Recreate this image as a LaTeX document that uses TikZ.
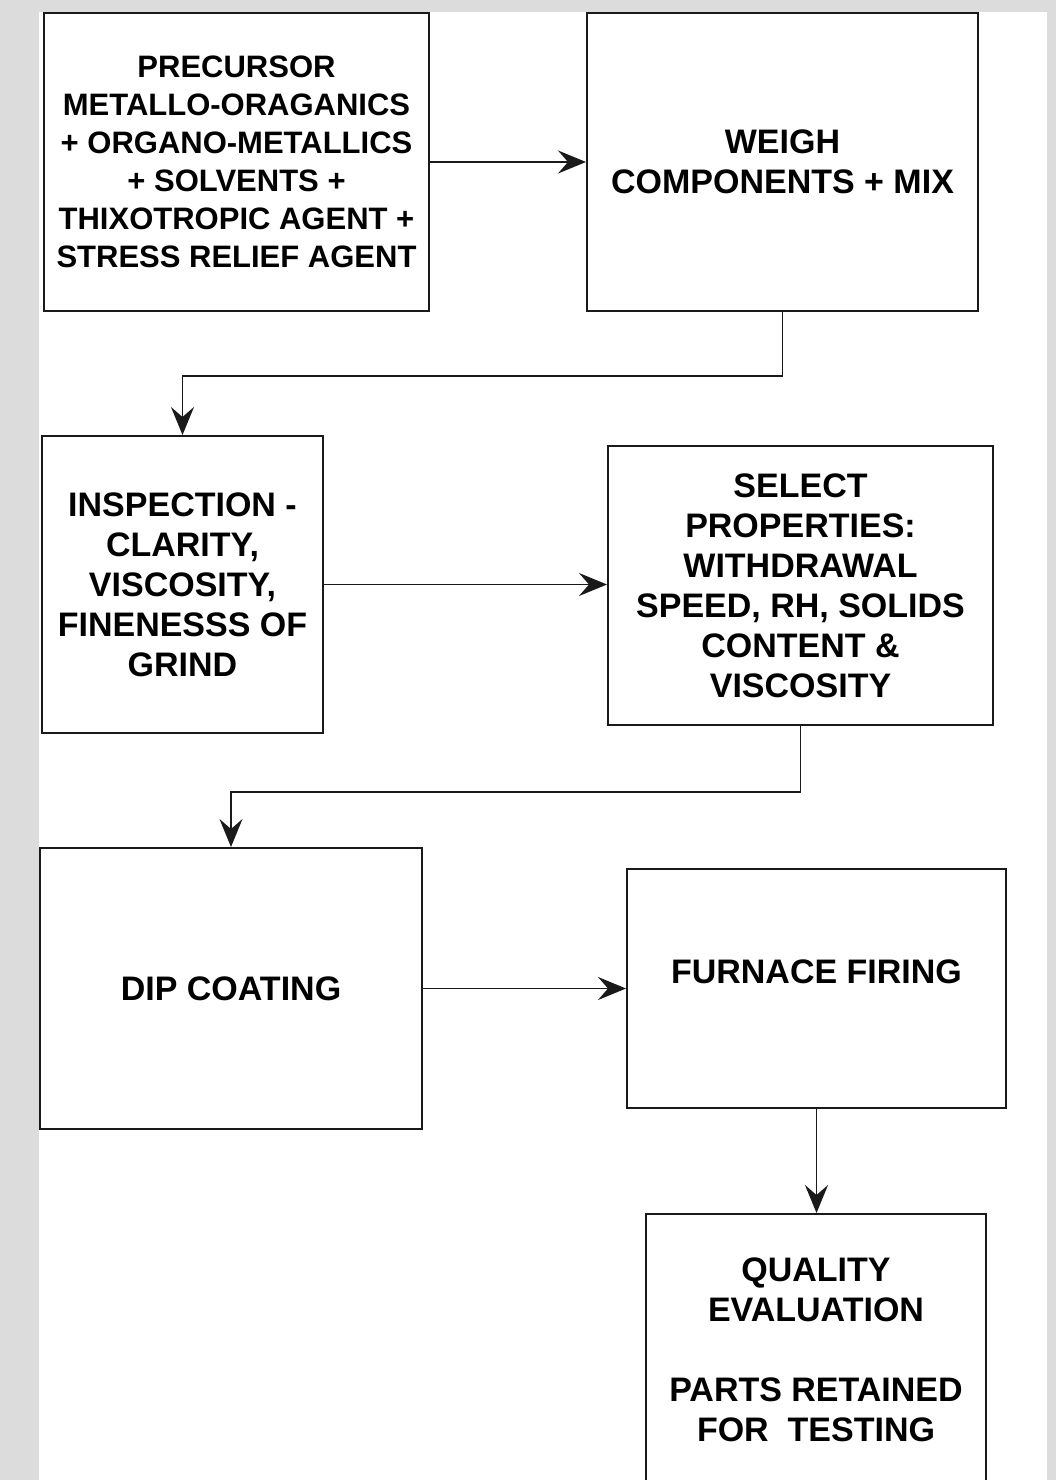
\documentclass[tikz,border=0pt]{standalone}
\usepackage{fontspec}
\setmainfont{Liberation Sans}
\usetikzlibrary{arrows.meta}
\definecolor{Frame}{HTML}{DCDCDC}
\definecolor{Ink}{HTML}{1A1A1A}
\tikzset{
  procbox/.style={draw=Ink,line width=2pt,fill=white,align=center,
    inner sep=0pt,font=\bfseries\fontsize{34}{40}\selectfont},
  flow/.style={draw=Ink,line width=1.8pt,
    -{Stealth[length=28pt,width=23pt,inset=10pt]}}
}
\begin{document}
\begin{tikzpicture}[x=1pt,y=-1pt]
    \useasboundingbox (0,0) rectangle (1056,1480);
    \fill[Frame] (0,0) rectangle (1056,1480);
    \fill[white] (39,12) rectangle (1047,1480);
    \clip (0,0) rectangle (1056,1480);
    % process boxes
    \node[procbox,minimum width=385pt,minimum height=298pt,
          font=\bfseries\fontsize{31}{38}\selectfont]
      (prec) at (236.5,162) {PRECURSOR\\METALLO-ORAGANICS\\+ ORGANO-METALLICS\\+ SOLVENTS +\\THIXOTROPIC AGENT +\\STRESS RELIEF AGENT};
    \node[procbox,minimum width=391pt,minimum height=298pt]
      (weigh) at (782.5,162) {WEIGH\\COMPONENTS + MIX};
    \node[procbox,minimum width=281pt,minimum height=297pt]
      (insp) at (182.5,584.5) {INSPECTION -\\CLARITY,\\VISCOSITY,\\FINENESSS OF\\GRIND};
    \node[procbox,minimum width=385pt,minimum height=279pt]
      (sel) at (800.5,585.5) {SELECT\\PROPERTIES:\\WITHDRAWAL\\SPEED, RH, SOLIDS\\CONTENT \&\\VISCOSITY};
    \node[procbox,minimum width=382pt,minimum height=281pt]
      (dip) at (231,988.5) {DIP COATING};
    \node[procbox,minimum width=379pt,minimum height=239pt]
      (furn) at (816.5,988.5) {\raisebox{16.5pt}[\height][\depth]{FURNACE FIRING}};
    \node[procbox,minimum width=340pt,minimum height=272pt]
      (qual) at (816,1350) {QUALITY\\EVALUATION\\[40pt]PARTS RETAINED\\FOR\ \ TESTING};
    % connectors
    \draw[flow] (prec.east) -- (weigh.west);
    \draw[flow] (weigh.south) -- ++(0,64) -| (insp.north);
    \draw[flow] (insp.east) -- (insp.east -| sel.west);
    \draw[flow] (sel.south) -- ++(0,66) -| (dip.north);
    \draw[flow] (dip.east) -- (dip.east -| furn.west);
    \draw[flow] (furn.south) -- (furn.south |- qual.north);
\end{tikzpicture}
\end{document}
